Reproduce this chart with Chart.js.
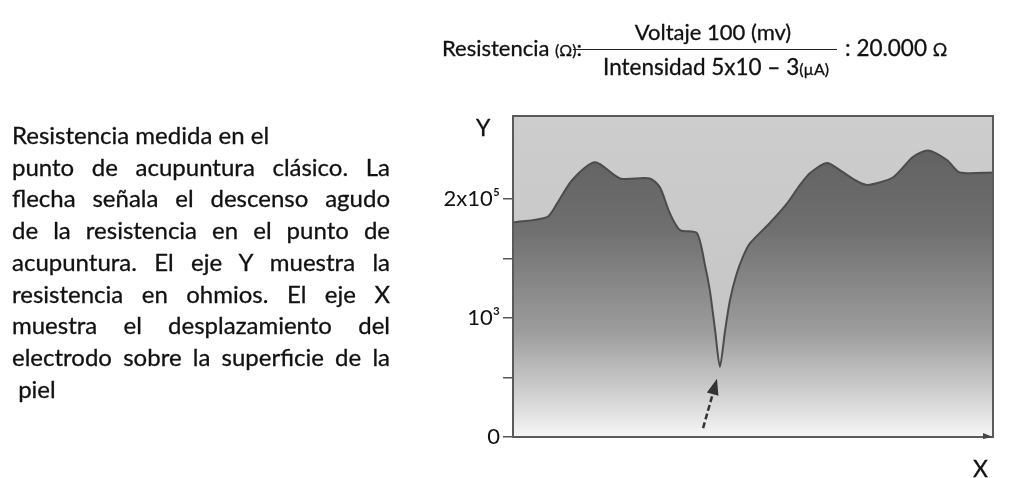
<!DOCTYPE html>
<html>
<head>
<meta charset="utf-8">
<script src="https://cdn.jsdelivr.net/npm/chart.js@4.4.1/dist/chart.umd.min.js"></script>
<style>
  html, body { margin: 0; padding: 0; background: #fff; }
  #wrap { position: relative; width: 1021px; height: 478px; overflow: hidden; font-family: Lato, "Open Sans", sans-serif; color: #111; -webkit-text-stroke: 0.3px #111; }
  #chart { position: absolute; left: 0; top: 0; }
  .t { position: absolute; white-space: nowrap; line-height: 26px; }
  #desc { position: absolute; left: 12px; top: 119px; width: 378px; font-size: 24px; line-height: 31.7px; }
  #desc div { text-align: justify; text-align-last: justify; white-space: nowrap; }
  #desc div.free { text-align-last: left; }
  .small { font-size: 16px; }
</style>
</head>
<body>
<div id="wrap">
  <canvas id="chart" width="1021" height="478"></canvas>

  <div class="t" style="left:442px; top:35px; font-size:22px;">Resistencia <span class="small">(Ω)</span>:</div>
  <div class="t" style="left:573px; top:49px; width:264px; height:0; border-top:1.5px solid #222;"></div>
  <div class="t" style="left:581px; top:19px; width:264px; text-align:center; font-size:22px;">Voltaje 100 (mv)</div>
  <div class="t" style="left:603px; top:54px; font-size:22.5px;">Intensidad 5x10 – 3<span class="small">(µA)</span></div>
  <div class="t" style="left:845px; top:35px; font-size:22.5px;">: 20.000 <span style="font-size:18px;">Ω</span></div>

  <div id="desc">
    <div class="free">Resistencia medida en el</div>
    <div>punto de acupuntura clásico. La</div>
    <div>flecha señala el descenso agudo</div>
    <div>de la resistencia en el punto de</div>
    <div>acupuntura. El eje Y muestra la</div>
    <div>resistencia en ohmios. El eje X</div>
    <div>muestra el desplazamiento del</div>
    <div>electrodo sobre la superficie de la</div>
    <div class="free">&nbsp;piel</div>
  </div>

  <div class="t" style="left:476px; top:114px; font-size:23px;">Y</div>
  <div class="t" style="left:973px; top:455px; font-size:23px;">X</div>
</div>

<script>
// displacement of the electrode (0-100) and resistance in axis units
const xValues = [0, 7.1, 9.2, 12.3, 17.1, 22.3, 28.5, 30.6, 32.7, 34.8, 38.3, 40.0, 41.0, 42.1, 43.1,
    44.2, 45.2, 46.5, 47.9, 49.4, 53.5, 57.1, 59.8, 61.9, 65.4, 68.1, 71.3, 73.8, 79.2, 83.3, 86.5, 90.4, 93.1, 100];
const yValues = [3.61, 3.70, 3.93, 4.32, 4.62, 4.35, 4.35, 4.20, 3.76, 3.48, 3.43, 2.89, 2.47, 1.80, 1.18,
    1.80, 2.30, 2.72, 3.03, 3.26, 3.60, 3.93, 4.24, 4.44, 4.61, 4.49, 4.32, 4.24, 4.37, 4.71, 4.82, 4.66, 4.45, 4.45];

const yTicks = [0, 1, 2, 3, 4];
const yTickLabels = ['0', '', '10³', '', '2x10⁵'];

// arrow pointing at the drop (data units)
const arrowFrom = [39.6, 0.15];
const arrowTo = [42.5, 0.98];

const points = xValues.map((x, i) => ({ x: x, y: yValues[i] }));

function fillGradient(context) {
    const area = context.chart.chartArea;
    if (!area) return '#888';
    const g = context.chart.ctx.createLinearGradient(0, area.top, 0, area.bottom);
    g.addColorStop(0, '#5c5c5c');
    g.addColorStop(0.35, '#6f6f6f');
    g.addColorStop(0.67, '#9c9c9c');
    g.addColorStop(0.88, '#d4d4d4');
    g.addColorStop(1, '#f6f6f6');
    return g;
}

const plotBackground = {
    id: 'plotBackground',
    beforeDraw(chart) {
        const { ctx, chartArea: a } = chart;
        const g = ctx.createLinearGradient(0, a.top, 0, a.bottom);
        g.addColorStop(0, '#cdcdcd');
        g.addColorStop(1, '#c2c2c2');
        ctx.save();
        ctx.fillStyle = g;
        ctx.fillRect(a.left, a.top, a.right - a.left, a.bottom - a.top);
        ctx.restore();
    },
    afterDraw(chart) {
        const { ctx, chartArea: a, scales } = chart;
        ctx.save();
        // frame
        ctx.strokeStyle = '#5a5a5a';
        ctx.lineWidth = 2;
        ctx.strokeRect(a.left, a.top, a.right - a.left, a.bottom - a.top);
        // small head on the x axis end
        ctx.fillStyle = '#444';
        ctx.beginPath();
        ctx.moveTo(a.right, a.bottom);
        ctx.lineTo(a.right - 10, a.bottom - 4);
        ctx.lineTo(a.right - 10, a.bottom + 2);
        ctx.closePath();
        ctx.fill();
        // arrow to the acupuncture point
        const x0 = scales.x.getPixelForValue(arrowFrom[0]);
        const y0 = scales.y.getPixelForValue(arrowFrom[1]);
        const x1 = scales.x.getPixelForValue(arrowTo[0]);
        const y1 = scales.y.getPixelForValue(arrowTo[1]);
        const ang = Math.atan2(y1 - y0, x1 - x0);
        ctx.strokeStyle = '#333';
        ctx.lineWidth = 2.5;
        ctx.setLineDash([6, 3]);
        ctx.beginPath();
        ctx.moveTo(x0, y0);
        ctx.lineTo(x1 - 10 * Math.cos(ang), y1 - 10 * Math.sin(ang));
        ctx.stroke();
        ctx.setLineDash([]);
        ctx.fillStyle = '#333';
        ctx.beginPath();
        ctx.moveTo(x1, y1);
        ctx.lineTo(x1 - 16 * Math.cos(ang) + 6 * Math.sin(ang), y1 - 16 * Math.sin(ang) - 6 * Math.cos(ang));
        ctx.lineTo(x1 - 16 * Math.cos(ang) - 6 * Math.sin(ang), y1 - 16 * Math.sin(ang) + 6 * Math.cos(ang));
        ctx.closePath();
        ctx.fill();
        ctx.restore();
    }
};

new Chart(document.getElementById('chart'), {
    type: 'line',
    data: {
        datasets: [{
            data: points,
            borderColor: '#4c4c4c',
            borderWidth: 2,
            backgroundColor: fillGradient,
            fill: 'origin',
            tension: 0.25,
            pointRadius: 0
        }]
    },
    options: {
        responsive: false,
        animation: false,
        layout: { padding: { left: 423, top: 116, right: 28, bottom: 41 } },
        plugins: { legend: { display: false }, tooltip: { enabled: false } },
        scales: {
            x: {
                type: 'linear',
                min: 0,
                max: 100,
                ticks: { display: false },
                grid: { display: false },
                border: { display: false },
                afterFit(scale) { scale.height = 0; }
            },
            y: {
                min: 0,
                max: 5.4,
                afterBuildTicks(scale) { scale.ticks = yTicks.map(v => ({ value: v })); },
                afterFit(scale) { scale.width = 90; },
                ticks: {
                    padding: 3,
                    color: '#111',
                    font: { family: 'Lato, "Noto Sans", sans-serif', size: 22 },
                    callback: (v) => yTickLabels[yTicks.indexOf(v)]
                },
                grid: { drawOnChartArea: false, tickLength: 10, color: '#555', lineWidth: 1.5 },
                border: { display: false }
            }
        }
    },
    plugins: [plotBackground]
});
</script>
</body>
</html>
